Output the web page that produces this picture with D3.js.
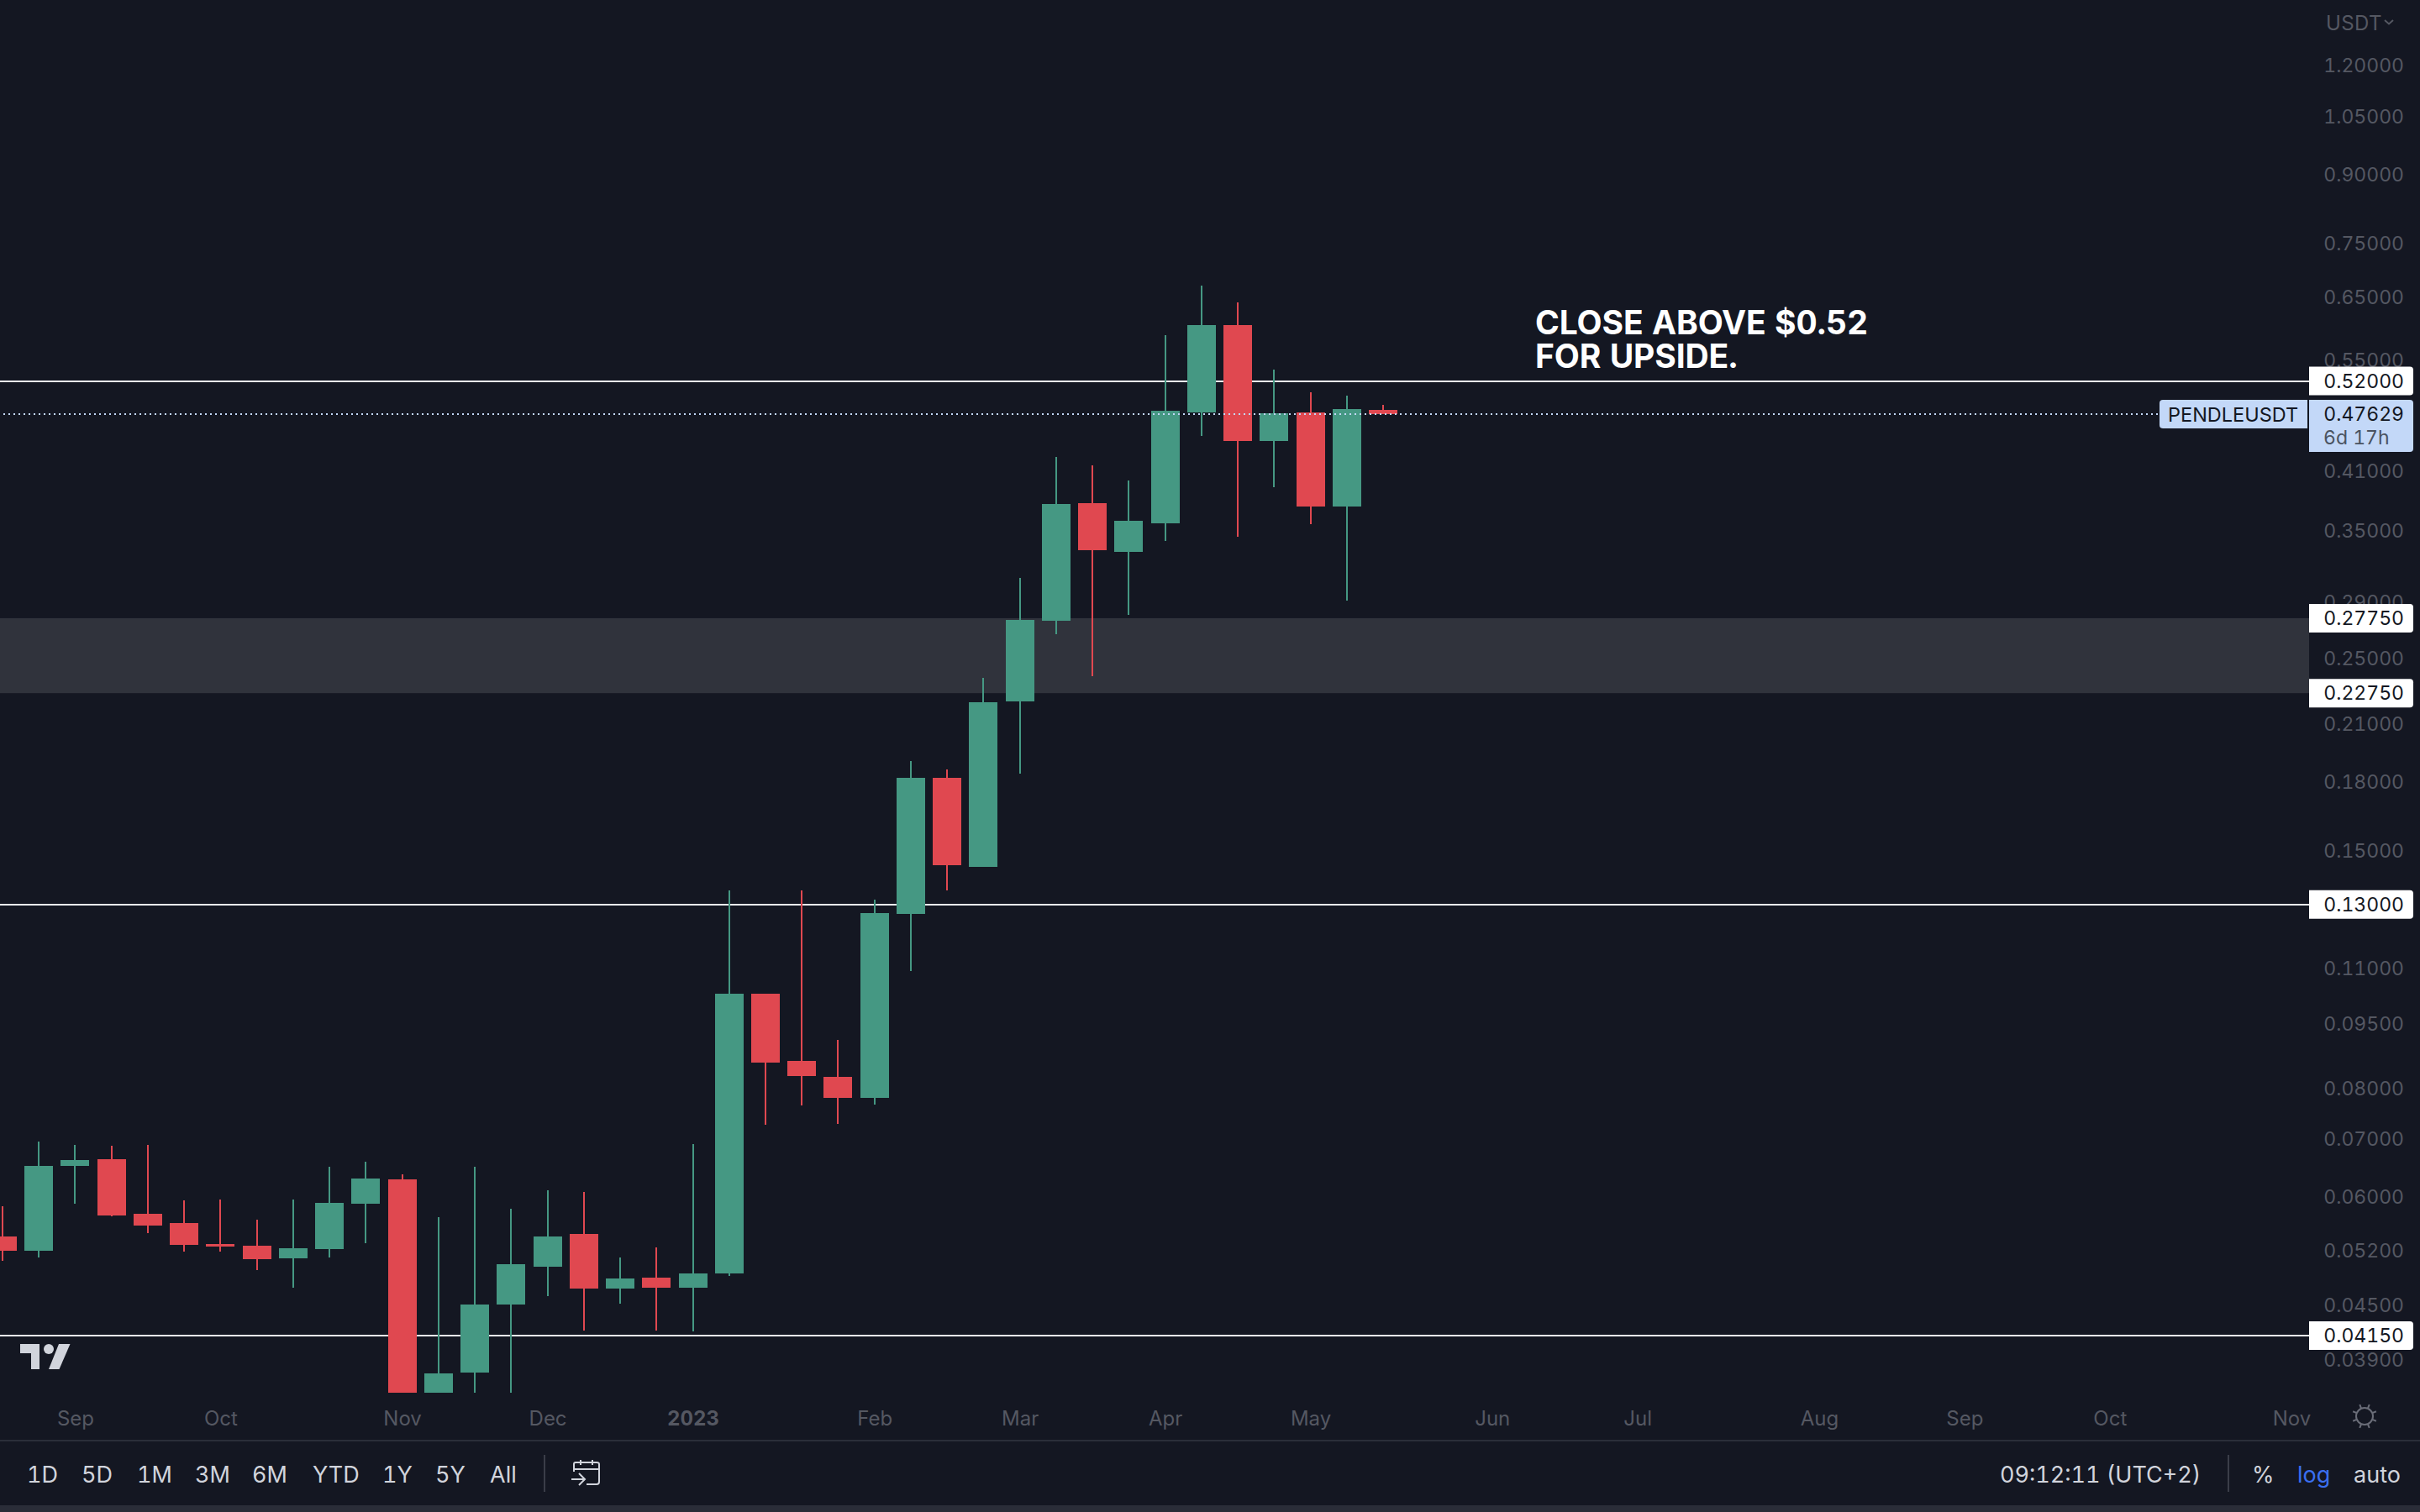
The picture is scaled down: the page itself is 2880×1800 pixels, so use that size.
<!DOCTYPE html>
<html>
<head>
<meta charset="utf-8">
<title>PENDLEUSDT</title>
<script src="https://cdn.jsdelivr.net/npm/d3@7"></script>
<style>
  html, body { margin: 0; padding: 0; background: #141722; }
  svg { display: block; }
  text { font-family: Inter, "Noto Sans", sans-serif; font-variant-numeric: tabular-nums; }
</style>
</head>
<body>
<div id="chart"></div>
<script>
// weekly candles, first one is the week of 22 Aug 2022
var opens = [
  0.05396, 0.05195, 0.06504, 0.06620, 0.05730, 0.05591, 0.05289, 0.05265, 0.05092, 0.05219,
  0.05885, 0.06277, 0.03567, 0.03762, 0.04505, 0.04980, 0.05432, 0.04700, 0.04838, 0.04710,
  0.04892, 0.10262, 0.08589, 0.08233, 0.07788, 0.12677, 0.18178, 0.14360, 0.22258, 0.27557,
  0.37627, 0.33073, 0.35671, 0.47846, 0.60303, 0.44360, 0.47846, 0.37294, 0.48168
];
var closes = [
  0.05195, 0.06504, 0.06606, 0.05704, 0.05554, 0.05277, 0.05254, 0.05080, 0.05230, 0.05898,
  0.06291, 0.03567, 0.03754, 0.04505, 0.05013, 0.05396, 0.04700, 0.04827, 0.04710, 0.04892,
  0.10262, 0.08551, 0.08252, 0.07788, 0.12706, 0.18178, 0.14424, 0.22208, 0.27619, 0.37544,
  0.33220, 0.35910, 0.48061, 0.60303, 0.44360, 0.47741, 0.37294, 0.48275, 0.47629
];
var highs = [
  0.05846, 0.06937, 0.06876, 0.06860, 0.06876, 0.05937, 0.05950, 0.05641, 0.05950, 0.06489,
  0.06576, 0.06360, 0.05679, 0.06489, 0.05807, 0.06098, 0.06071, 0.05104, 0.05242, 0.06891,
  0.13492, 0.10262, 0.13492, 0.09080, 0.13166, 0.19006, 0.18587, 0.23688, 0.30869, 0.42524,
  0.41590, 0.39957, 0.58714, 0.66950, 0.64036, 0.53596, 0.50471, 0.50024, 0.48814
];
var lows = [
  0.05058, 0.05104, 0.05885, 0.05692, 0.05444, 0.05184, 0.05184, 0.04935, 0.04710, 0.05104,
  0.05301, 0.03567, 0.03567, 0.03567, 0.03567, 0.04607, 0.04205, 0.04515, 0.04205, 0.04196,
  0.04859, 0.07253, 0.07633, 0.07269, 0.07650, 0.10897, 0.13492, 0.14360, 0.18382, 0.26594,
  0.23794, 0.27990, 0.34043, 0.44957, 0.34424, 0.39252, 0.35592, 0.29069, 0.47629
];

var priceTicks = [1.2, 1.05, 0.9, 0.75, 0.65, 0.55, 0.41, 0.35, 0.29, 0.25, 0.21, 0.18, 0.15,
  0.11, 0.095, 0.08, 0.07, 0.06, 0.052, 0.045, 0.039];
var monthTicks = ['2022-09-05', '2022-10-03', '2022-11-07', '2022-12-05', '2023-01-02', '2023-02-06',
  '2023-03-06', '2023-04-03', '2023-05-01', '2023-06-05', '2023-07-03', '2023-08-07', '2023-09-04',
  '2023-10-02', '2023-11-06'];
var monthLabels = ['Sep', 'Oct', 'Nov', 'Dec', '2023', 'Feb', 'Mar', 'Apr', 'May', 'Jun', 'Jul', 'Aug',
  'Sep', 'Oct', 'Nov'];

var levels = [0.52, 0.13, 0.0415];
var zone = [0.2775, 0.2275];
var lastPrice = 0.47629;
var rangeButtons = ['1D', '5D', '1M', '3M', '6M', 'YTD', '1Y', '5Y', 'All'];
var rangeButtonX = [32, 97, 163, 232, 300, 372, 455, 518, 583];

var width = 2880, height = 1800;
var paneRight = 2748;
var up = '#459883', down = '#e04850', bg = '#141722', dim = '#555862', light = '#d1d4dc', tagBlue = '#c3d8f8';

var parseDay = d3.utcParse('%Y-%m-%d');
var weeks = d3.utcMonday.range(parseDay('2022-08-22'), parseDay('2023-05-16'));
var candles = weeks.map(function (d, i) {
  return { date: d, open: opens[i], close: closes[i], high: highs[i], low: lows[i] };
});

var x = d3.scaleUtc().domain([parseDay('2022-08-22'), parseDay('2023-11-06')]).range([3, 2727]);
var y = d3.scaleLog().domain([1.2, 0.0415]).range([77.7, 1590]);

var svg = d3.select('#chart').append('svg').attr('width', width).attr('height', height);
svg.append('rect').attr('width', width).attr('height', height).attr('fill', bg);

// support zone and horizontal levels sit under the candles
svg.append('rect')
  .attr('x', 0).attr('width', paneRight)
  .attr('y', y(zone[0])).attr('height', y(zone[1]) - y(zone[0]))
  .attr('fill', '#30333c');

svg.selectAll('.level')
  .data(levels)
  .enter()
  .append('rect')
  .attr('class', 'level')
  .attr('x', 0).attr('width', paneRight)
  .attr('y', function (d) { return Math.round(y(d)) - 1; })
  .attr('height', 2)
  .attr('fill', '#eef0f4');

var candle = svg.selectAll('.candle')
  .data(candles)
  .enter()
  .append('g')
  .attr('class', 'candle')
  .attr('shape-rendering', 'crispEdges')
  .attr('fill', function (d) { return d.close >= d.open ? up : down; });

candle.append('rect')
  .attr('x', function (d) { return Math.round(x(d.date)) - 1; })
  .attr('width', 2)
  .attr('y', function (d) { return y(d.high); })
  .attr('height', function (d) { return y(d.low) - y(d.high); });

candle.append('rect')
  .attr('x', function (d) { return Math.round(x(d.date)) - 17; })
  .attr('width', 34)
  .attr('y', function (d) { return y(Math.max(d.open, d.close)); })
  .attr('height', function (d) { return Math.max(1, Math.abs(y(d.open) - y(d.close))); });

// last price dotted line
svg.append('line')
  .attr('x1', 4).attr('x2', 2570)
  .attr('y1', Math.round(y(lastPrice))).attr('y2', Math.round(y(lastPrice)))
  .attr('stroke', tagBlue)
  .attr('stroke-width', 2)
  .attr('stroke-dasharray', '2 4')
  .attr('shape-rendering', 'crispEdges');

// price axis
var yAxis = d3.axisRight(y).tickValues(priceTicks).tickSize(0).tickPadding(0).tickFormat(d3.format('.5f'));
var yAxisG = svg.append('g').attr('transform', 'translate(2861,0)').call(yAxis);
yAxisG.select('.domain').remove();
yAxisG.selectAll('text')
  .attr('text-anchor', 'end')
  .attr('dy', '0.36em')
  .attr('fill', dim)
  .attr('font-size', 23)
  .style('font-family', 'Inter');

svg.append('text').attr('x', 2768).attr('y', 36).attr('fill', dim).attr('font-size', 24)
  .attr('letter-spacing', 0.4).text('USDT');
svg.append('path').attr('d', 'M2838 24l5 4.5 5-4.5').attr('fill', 'none').attr('stroke', dim).attr('stroke-width', 2);

// time axis
var monthDates = monthTicks.map(parseDay);
var xAxis = d3.axisBottom(x).tickValues(monthDates).tickSize(0).tickPadding(0)
  .tickFormat(function (d, i) { return monthLabels[i]; });
var xAxisG = svg.append('g').attr('transform', 'translate(0,1697)').call(xAxis);
xAxisG.select('.domain').remove();
xAxisG.selectAll('text')
  .attr('dy', 0)
  .attr('fill', dim)
  .attr('font-size', 24)
  .attr('font-weight', function (d, i) { return monthLabels[i] === '2023' ? 700 : 400; })
  .style('font-family', 'Inter');

// right-hand price tags, square on the chart side
function tag(x0, y0, w, h, rLeft, rRight, fill) {
  var p = d3.path();
  p.moveTo(x0 + rLeft, y0);
  p.lineTo(x0 + w - rRight, y0);
  p.arcTo(x0 + w, y0, x0 + w, y0 + rRight, rRight);
  p.lineTo(x0 + w, y0 + h - rRight);
  p.arcTo(x0 + w, y0 + h, x0 + w - rRight, y0 + h, rRight);
  p.lineTo(x0 + rLeft, y0 + h);
  p.arcTo(x0, y0 + h, x0, y0 + h - rLeft, rLeft);
  p.lineTo(x0, y0 + rLeft);
  p.arcTo(x0, y0, x0 + rLeft, y0, rLeft);
  p.closePath();
  svg.append('path').attr('d', p.toString()).attr('fill', fill);
}

function tagText(x0, yMid, str, anchor, fill, size) {
  svg.append('text')
    .attr('x', x0).attr('y', yMid).attr('dy', '0.36em')
    .attr('text-anchor', anchor)
    .attr('fill', fill)
    .attr('font-size', size)
    .text(str);
}

levels.concat(zone).forEach(function (v) {
  var ym = y(v);
  tag(paneRight, ym - 17, 124, 34, 0, 4, '#ffffff');
  tagText(2861, ym, d3.format('.5f')(v), 'end', '#131722', 23);
});

var yLast = y(lastPrice);
tag(2570, yLast - 17, 176, 34, 4, 0, tagBlue);
tagText(2580, yLast, 'PENDLEUSDT', 'start', '#131722', 23.5);
tag(paneRight, yLast - 17, 124, 62, 0, 4, tagBlue);
tagText(2861, yLast, d3.format('.5f')(lastPrice), 'end', '#131722', 23);
tagText(2765, yLast + 28, '6d 17h', 'start', '#4a5361', 23);

// annotation
var note = svg.append('text').attr('fill', '#ffffff').attr('font-size', 39).attr('font-weight', 700)
  .attr('letter-spacing', -0.1);
note.append('tspan').attr('x', 1827).attr('y', 398).text('CLOSE ABOVE $0.52');
note.append('tspan').attr('x', 1827).attr('y', 438).text('FOR UPSIDE.');

// tradingview mark
var logo = svg.append('g').attr('fill', light);
logo.append('path').attr('d', 'M24 1600H47V1630H37V1611H24Z');
logo.append('circle').attr('cx', 58).attr('cy', 1606).attr('r', 6);
logo.append('path').attr('d', 'M70 1600H83.5L70.5 1630H58Z');

// bottom toolbar
svg.append('rect').attr('x', 0).attr('y', 1714).attr('width', width).attr('height', 2).attr('fill', '#2a2e39');
svg.append('rect').attr('x', 0).attr('y', 1792).attr('width', width).attr('height', 8).attr('fill', '#2a2d38');

svg.selectAll('.range')
  .data(rangeButtons)
  .enter()
  .append('text')
  .attr('class', 'range')
  .attr('x', function (d, i) { return rangeButtonX[i]; })
  .attr('y', 1765)
  .attr('fill', light)
  .attr('font-size', 27)
  .text(function (d) { return d; });

[647, 2651].forEach(function (sx) {
  svg.append('rect').attr('x', sx).attr('y', 1732).attr('width', 2).attr('height', 44).attr('fill', '#3a3d48');
});

// go-to-date icon
svg.append('path')
  .attr('d', 'M683 1752V1743Q683 1741 685 1741H710Q713 1741 713 1743V1764Q713 1767 710 1767H698M683 1749H713M691 1738V1744M705 1738V1744M680 1761H695M689 1754L696 1761L689 1768')
  .attr('fill', 'none').attr('stroke', light).attr('stroke-width', 2);

svg.append('text').attr('x', 2380).attr('y', 1765).attr('fill', light).attr('font-size', 27).text('09:12:11 (UTC+2)');
svg.append('text').attr('x', 2680).attr('y', 1765).attr('fill', light).attr('font-size', 27).text('%');
svg.append('text').attr('x', 2734).attr('y', 1765).attr('fill', '#3a6ff0').attr('font-size', 27).text('log');
svg.append('text').attr('x', 2801).attr('y', 1765).attr('fill', light).attr('font-size', 27).text('auto');

// theme toggle
var sun = svg.append('g').attr('transform', 'translate(2814,1686)').attr('fill', 'none').attr('stroke', '#6a6d78').attr('stroke-width', 2);
sun.append('circle').attr('r', 10);
d3.range(8).forEach(function (i) {
  sun.append('line').attr('x1', 10).attr('x2', 15).attr('transform', 'rotate(' + (i * 45 + 22.5) + ')');
});
</script>
</body>
</html>
